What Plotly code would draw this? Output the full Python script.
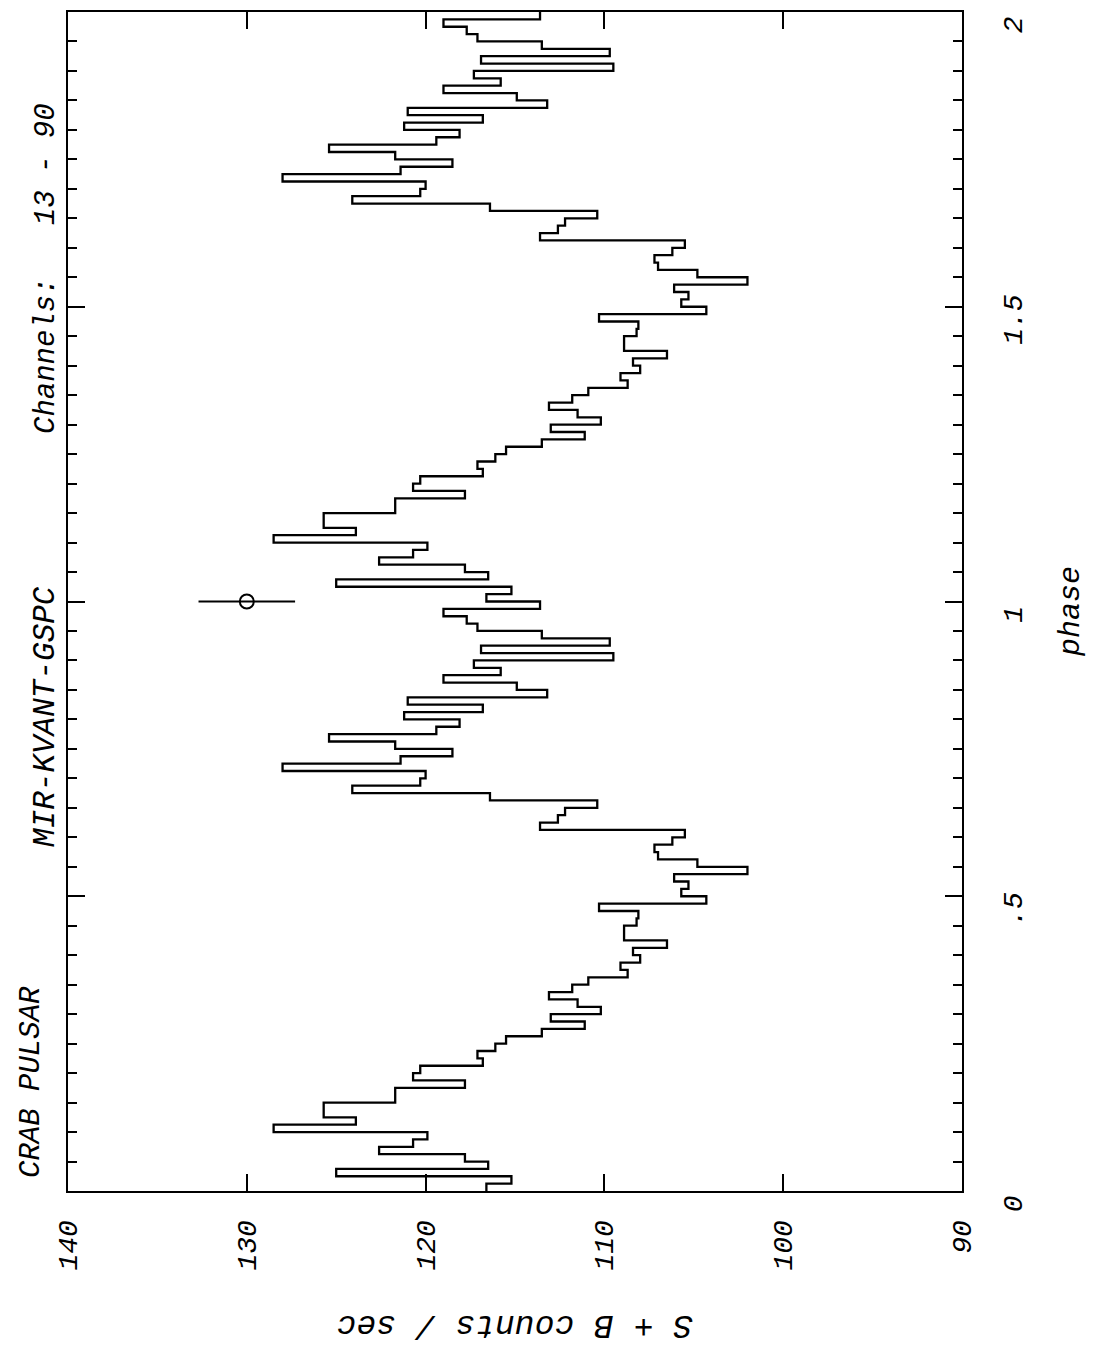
import plotly.graph_objects as go

# ---- data (one pulse period, 80 phase bins, plotted twice: phase 0-2) ----
bins_per_period = 80
counts_period = [116.6, 115.2, 125.0, 116.5, 117.8, 122.6, 120.7, 119.9, 128.5, 123.9,
                 125.7, 125.7, 121.7, 121.7, 117.8, 120.7, 120.3, 116.8, 117.1, 116.1,
                 115.5, 113.5, 111.1, 113.0, 110.2, 111.5, 113.1, 111.8, 110.9, 108.7,
                 109.1, 108.0, 108.4, 106.5, 108.9, 108.9, 108.2, 108.1, 110.3, 104.3,
                 105.7, 105.3, 106.1, 102.0, 104.8, 107.0, 107.2, 106.2, 105.5, 113.6,
                 112.6, 112.2, 110.4, 116.4, 124.1, 120.3, 120.0, 128.0, 121.4, 118.5,
                 121.7, 125.4, 119.4, 118.1, 121.2, 116.8, 121.0, 113.2, 114.9, 119.0,
                 115.8, 117.3, 109.5, 116.9, 109.7, 113.5, 117.1, 117.7, 119.0, 113.6]
n_periods = 2

errbar_phase = [1.0]
errbar_counts = [130.0]
errbar_sigma = [2.7]

count_ticks = [140, 130, 120, 110, 100, 90]
count_ticktext = ["140", "130", "120", "110", "100", "90"]
phase_ticks = [0, 0.5, 1.0, 1.5, 2.0]
phase_ticktext = ["0", ".5", "1", "1.5", "2"]

NB = "\u00a0"
title_parts = ["CRAB" + NB + "PULSAR", "MIR-KVANT-GSPC",
               "Channels:" + NB * 3 + "13" + NB + "-" + NB + "90"]
x_title = "S" + NB + "+" + NB + "B" + NB + "counts" + NB + "/" + NB + "sec"
y_title = "phase"

# ---- build step outline from the bins ----
values = counts_period * n_periods
nb = len(values)
width = 1.0 / bins_per_period
edges = [i * width for i in range(nb + 1)]
xs = values + [values[-1]]
ys = edges

FONT = "Liberation Mono, DejaVu Sans Mono, monospace"
L, R, T, B = 68, 962, 12, 1191
W, H = 1094, 1348


def px(X):
    return (X - L) / (R - L)


def py(Y):
    return (B - Y) / (B - T)


fig = go.Figure()
fig.add_trace(go.Scatter(x=xs, y=ys, mode="lines", line=dict(shape="vh", color="black", width=2.3),
                         hoverinfo="skip"))
fig.add_trace(go.Scatter(x=errbar_counts, y=errbar_phase, mode="markers",
                         marker=dict(symbol="circle-open", size=14, color="black",
                                     line=dict(width=2, color="black")),
                         error_x=dict(type="data", array=errbar_sigma, color="black", thickness=2, width=0)))

fig.update_layout(
    width=W, height=H,
    margin=dict(l=L, r=W - R, t=T, b=H - B),
    plot_bgcolor="white", paper_bgcolor="white",
    showlegend=False,
    font=dict(family=FONT, size=28, color="black", style="italic"),
)
fig.update_xaxes(range=[140, 90], tickmode="array", tickvals=count_ticks, ticktext=count_ticktext,
                 ticks="inside", ticklen=17, tickwidth=2, tickcolor="black",
                 showline=True, linewidth=2, linecolor="black", mirror="ticks",
                 showgrid=False, zeroline=False, tickangle=-90, ticklabelstandoff=16,
                 automargin=False,
                 tickfont=dict(family=FONT, size=28, style="italic"))
fig.update_yaxes(range=[0, 2], side="right", tickmode="array", tickvals=phase_ticks, ticktext=phase_ticktext,
                 ticks="inside", ticklen=17, tickwidth=2, tickcolor="black",
                 minor=dict(tickmode="linear", tick0=0, dtick=0.05, ticks="inside", ticklen=9,
                            tickwidth=2, tickcolor="black"),
                 showline=True, linewidth=2, linecolor="black", mirror="ticks",
                 showgrid=False, zeroline=False, tickangle=-90, ticklabelstandoff=24,
                 ticklabelshift=17, automargin=False,
                 tickfont=dict(family=FONT, size=28, style="italic"))

ann = []
for text, X, Y, size in zip(title_parts, [31, 45, 46], [1082, 717, 269], [29, 31, 29]):
    ann.append(dict(text=text, x=px(X), y=py(Y), xref="paper", yref="paper", showarrow=False,
                    textangle=-90, xanchor="center", yanchor="middle",
                    font=dict(family=FONT, size=size, style="italic", color="black")))
ann.append(dict(text=x_title, x=px(515), y=py(1325), xref="paper", yref="paper", showarrow=False,
                textangle=180, xanchor="center", yanchor="middle",
                font=dict(family=FONT, size=33, style="italic", color="black")))
ann.append(dict(text=y_title, x=px(1071), y=py(612), xref="paper", yref="paper", showarrow=False,
                textangle=-90, xanchor="center", yanchor="middle",
                font=dict(family=FONT, size=30, style="italic", color="black")))
fig.update_layout(annotations=ann)

fig.write_html("out.html", config={"displayModeBar": False},
               post_script="document.body.style.margin='0';")
